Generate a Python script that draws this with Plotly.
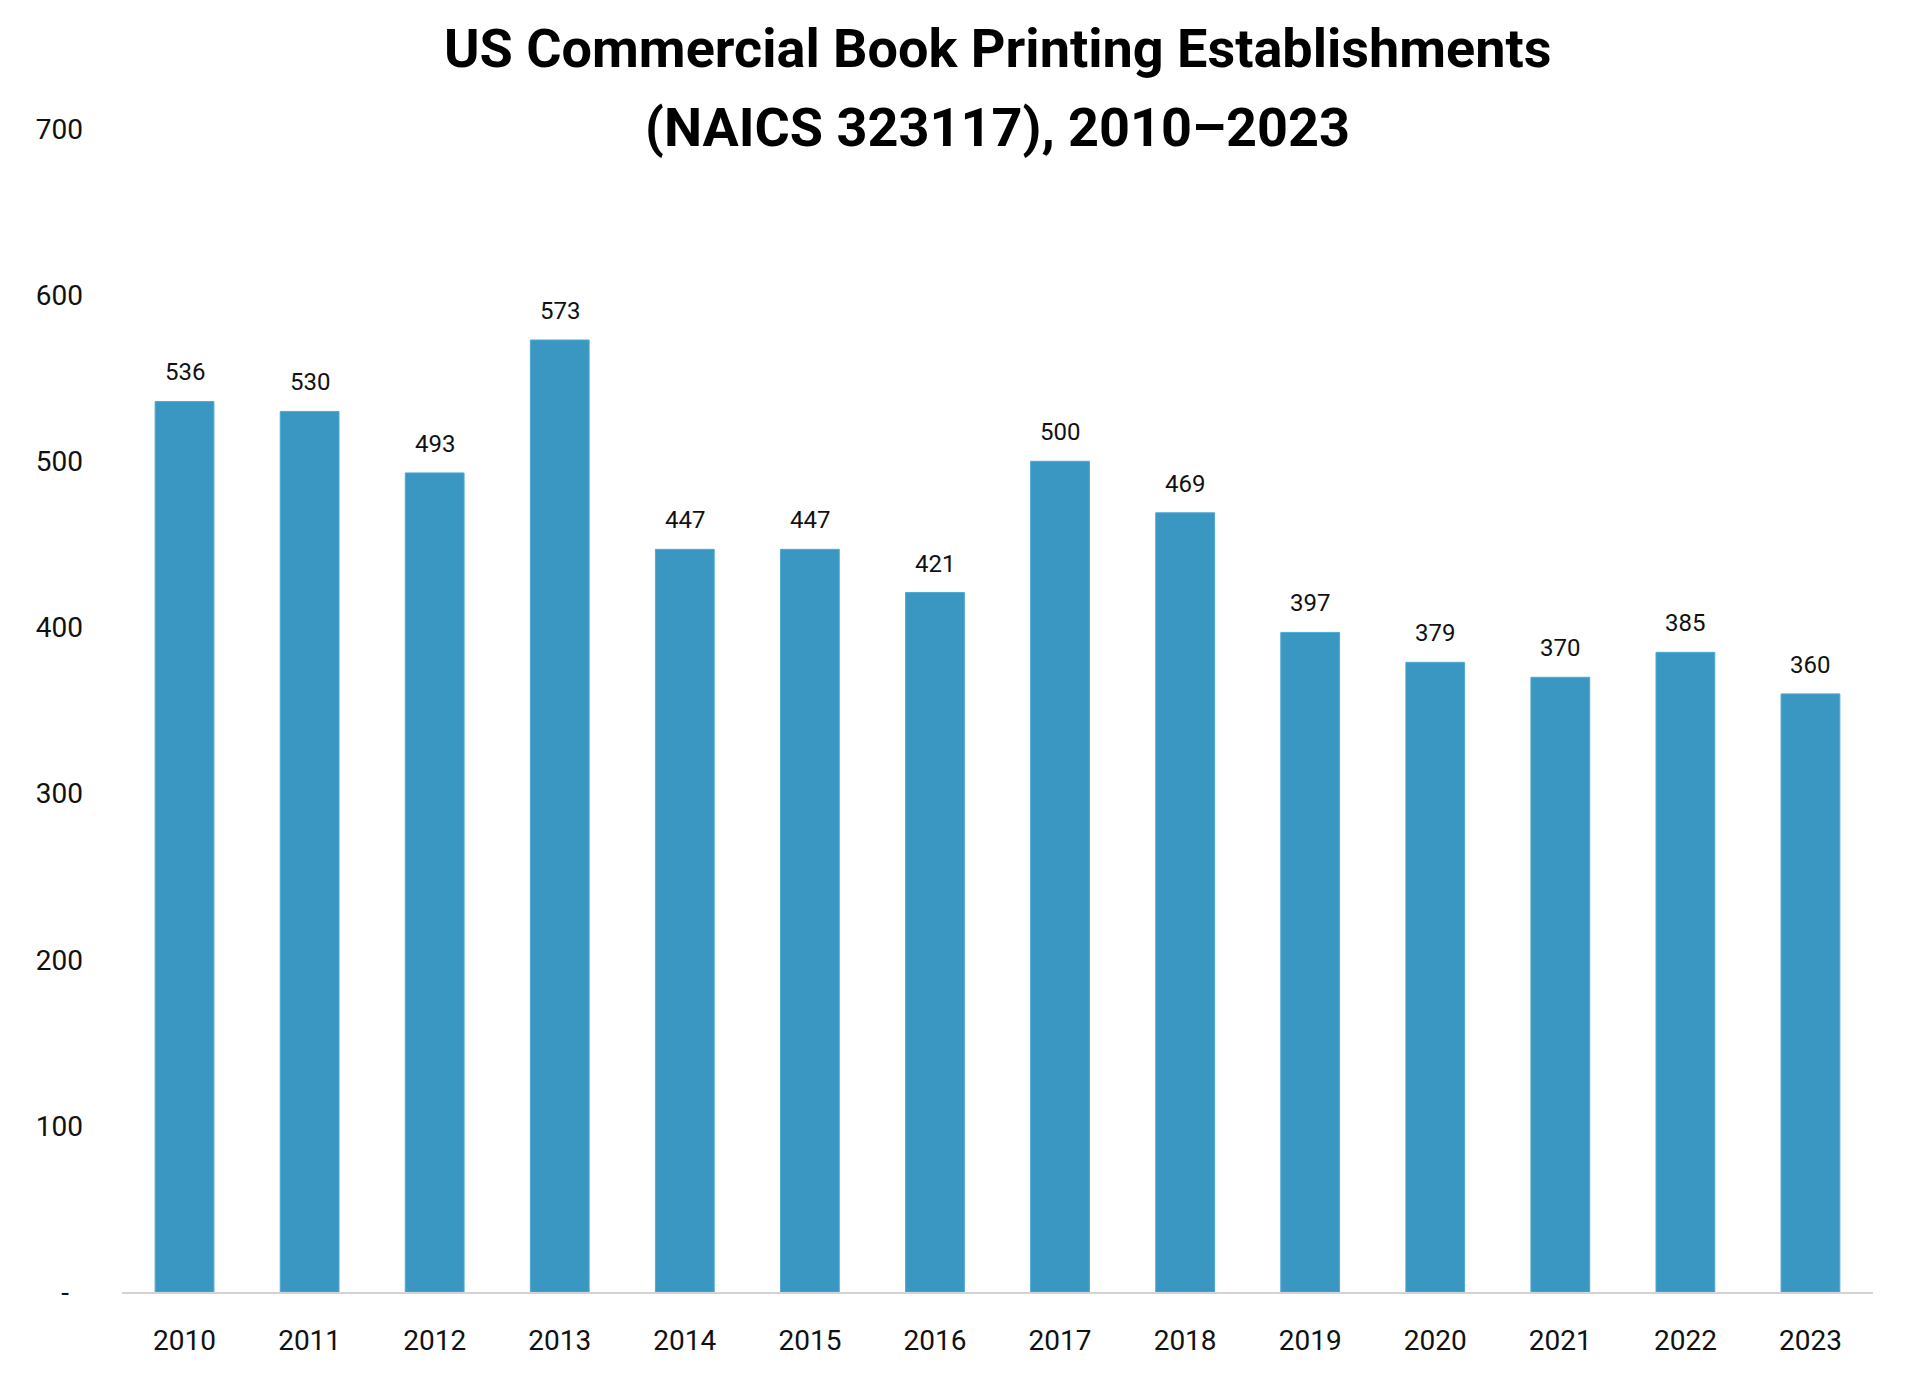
import plotly.graph_objects as go

years = ["2010", "2011", "2012", "2013", "2014", "2015", "2016",
         "2017", "2018", "2019", "2020", "2021", "2022", "2023"]
establishments = [536, 530, 493, 573, 447, 447, 421, 500, 469, 397, 379, 370, 385, 360]
y_tick_values = [0, 100, 200, 300, 400, 500, 600, 700]
y_tick_labels = ["-  ", "100", "200", "300", "400", "500", "600", "700"]
title_lines = ["US Commercial Book Printing Establishments", "(NAICS 323117), 2010–2023"]

FONT = "Roboto, Liberation Sans, sans-serif"

fig = go.Figure()
fig.add_trace(go.Bar(
    x=years,
    y=establishments,
    marker=dict(color="#3A97C1", line=dict(color="#4FA9D2", width=1)),
    showlegend=False,
    hoverinfo="x+y",
))

# data labels above bars (category index positions)
for i, v in enumerate(establishments):
    fig.add_annotation(
        x=i, y=v, xref="x", yref="y", text=str(v), showarrow=False,
        yanchor="bottom", yshift=13,
        font=dict(family=FONT, size=24, color="#111111"),
    )

# two-line title
for line, ypos in zip(title_lines, [1.0688, 1.0009]):
    fig.add_annotation(
        x=0.5, y=ypos, xref="paper", yref="paper", text=f"<b>{line}</b>",
        showarrow=False, xanchor="center", yanchor="middle",
        font=dict(family=FONT, size=54, color="#000000", weight=900),
    )

fig.update_layout(
    width=1920, height=1395,
    paper_bgcolor="white", plot_bgcolor="white",
    margin=dict(l=122, r=47, t=129, b=103),
    bargap=0.53,
    font=dict(family=FONT, color="#111111"),
)

fig.update_xaxes(
    type="category",
    showgrid=False,
    showline=True, linecolor="#D3D3D3", linewidth=2,
    ticks="", ticklabelstandoff=22,
    tickfont=dict(family=FONT, size=28, color="#111111"),
)
fig.update_yaxes(
    range=[0, 700],
    showgrid=False, zeroline=False, showline=False,
    tickmode="array", tickvals=y_tick_values, ticktext=y_tick_labels,
    ticks="", ticklabelstandoff=38,
    tickfont=dict(family=FONT, size=28, color="#111111"),
)

fig.write_html("out.html")
